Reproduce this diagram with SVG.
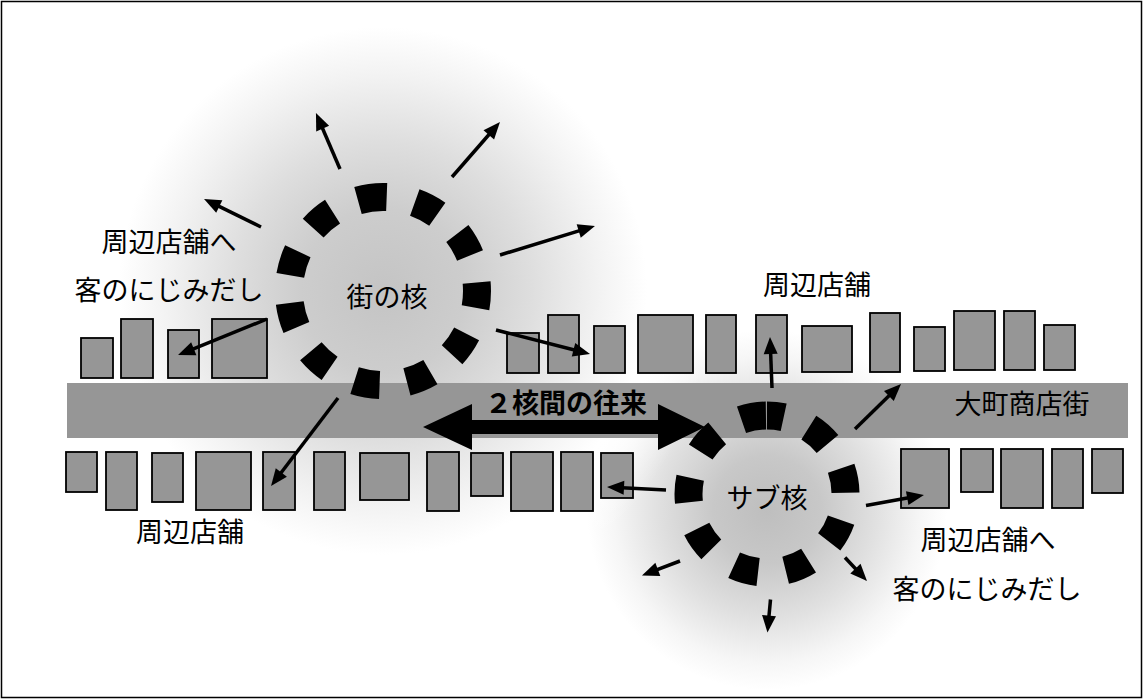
<svg xmlns="http://www.w3.org/2000/svg" width="1144" height="700" viewBox="0 0 1144 700">
<defs>
<style>
.bld{fill:#969696;stroke:#000;stroke-width:1.8}
.t{font-family:"Noto Sans CJK JP","Noto Sans",sans-serif;font-size:27px;fill:#000;text-anchor:middle}
.tb{font-weight:bold}
.arr{stroke:#000;stroke-width:3.5;fill:none;marker-end:url(#ah)}
.ring{fill:none;stroke:#000;stroke-width:28}
</style>
<marker id="ah" markerUnits="userSpaceOnUse" markerWidth="20" markerHeight="16" refX="7" refY="7" orient="auto" overflow="visible">
<path d="M0,0 L17,7 L0,14 z" fill="#000"/>
</marker>
<radialGradient id="gMain" cx="383" cy="291" r="330" gradientUnits="userSpaceOnUse">
<stop offset="0" stop-color="#c4c4c4"/>
<stop offset="0.25" stop-color="#cdcdcd"/>
<stop offset="0.45" stop-color="#dedede"/>
<stop offset="0.65" stop-color="#f2f2f2"/>
<stop offset="0.8" stop-color="#ffffff" stop-opacity="0.95"/>
<stop offset="1" stop-color="#ffffff" stop-opacity="0"/>
</radialGradient>
<radialGradient id="gSub" cx="767" cy="510" r="180" gradientUnits="userSpaceOnUse">
<stop offset="0" stop-color="#bebebe"/>
<stop offset="0.3" stop-color="#c8c8c8"/>
<stop offset="0.6" stop-color="#e0e0e0"/>
<stop offset="0.85" stop-color="#f6f6f6"/>
<stop offset="1" stop-color="#ffffff"/>
</radialGradient>
</defs>
<rect x="0" y="0" width="1144" height="700" fill="#fff"/>
<g id="glows">
<circle cx="767" cy="510" r="180" fill="url(#gSub)"/>
<circle cx="383" cy="291" r="330" fill="url(#gMain)"/>
</g>
<rect id="frame" x="1.5" y="1.5" width="1140" height="696" fill="none" stroke="#000" stroke-width="1.5"/>
<g id="street">
<rect x="67" y="383" width="1061" height="55" fill="#969696"/>
<text class="t" x="1022" y="414">大町商店街</text>
</g>
<g id="buildings-top-left">
<rect class="bld" x="81" y="338" width="32" height="40"/>
<rect class="bld" x="121" y="319" width="32" height="59"/>
<rect class="bld" x="168" y="330" width="31" height="48"/>
<rect class="bld" x="212" y="319" width="55" height="59"/>
</g>
<g id="buildings-top-right">
<rect class="bld" x="507" y="333" width="32" height="40"/>
<rect class="bld" x="548" y="315" width="31" height="58"/>
<rect class="bld" x="594" y="326" width="31" height="47"/>
<rect class="bld" x="638" y="315" width="55" height="58"/>
<rect class="bld" x="706" y="315" width="30" height="58"/>
<rect class="bld" x="756" y="315" width="31" height="58"/>
<rect class="bld" x="802" y="326" width="50" height="46"/>
<rect class="bld" x="870" y="313" width="30" height="59"/>
<rect class="bld" x="914" y="327" width="31" height="44"/>
<rect class="bld" x="954" y="311" width="41" height="59"/>
<rect class="bld" x="1004" y="311" width="31" height="59"/>
<rect class="bld" x="1044" y="325" width="31" height="45"/>
</g>
<g id="buildings-bottom-left">
<rect class="bld" x="66" y="452" width="31" height="40"/>
<rect class="bld" x="106" y="452" width="31" height="58"/>
<rect class="bld" x="152" y="453" width="31" height="49"/>
<rect class="bld" x="196" y="452" width="55" height="58"/>
<rect class="bld" x="263" y="452" width="32" height="58"/>
<rect class="bld" x="314" y="452" width="31" height="58"/>
<rect class="bld" x="360" y="453" width="49" height="47"/>
<rect class="bld" x="427" y="452" width="32" height="59"/>
<rect class="bld" x="471" y="453" width="32" height="43"/>
<rect class="bld" x="511" y="452" width="42" height="59"/>
<rect class="bld" x="561" y="452" width="32" height="59"/>
<rect class="bld" x="601" y="453" width="32" height="45"/>
</g>
<g id="buildings-bottom-right">
<rect class="bld" x="901" y="449" width="48" height="59"/>
<rect class="bld" x="961" y="449" width="32" height="43"/>
<rect class="bld" x="1001" y="449" width="42" height="59"/>
<rect class="bld" x="1052" y="449" width="31" height="59"/>
<rect class="bld" x="1092" y="449" width="31" height="44"/>
</g>
<g id="two-core-link">
<polygon points="423,427 472,404 472,420 658,420 658,404 705,427 658,450 658,434 472,434 472,450" fill="#000"/>
<text class="t tb" x="566" y="413">２核間の往来</text>
</g>
<g id="main-core">
<path class="ring" pathLength="360" stroke-dasharray="2.3 17.5 15.5 16.97 15.5 16.97 15.5 16.97 15.5 16.97 15.5 16.97 15.5 16.97 15.5 16.97 15.5 16.97 15.5 16.97 15.5 16.97 15.5 0.03" d="M383,197 A94,94 0 0 1 383,385 A94,94 0 0 1 383,197"/>
<text class="t" x="387" y="307">街の核</text>
</g>
<g id="sub-core">
<path class="ring" pathLength="360" stroke-dasharray="12.3 19.9 18.2 20.4 18.2 20.4 18.2 20.4 18.2 20.4 18.2 20.4 18.2 20.4 18.2 20.4 18.2 20.4 18.2 0.8" d="M767,415.5 A78.5,78.5 0 0 1 767,572.5 A78.5,78.5 0 0 1 767,415.5"/>
<text class="t" x="767" y="508">サブ核</text>
</g>
<g id="connectors">
<line class="arr" x1="340" y1="169" x2="319.9" y2="122.2"/>
<line class="arr" x1="452" y1="177" x2="493.4" y2="129.5"/>
<line class="arr" x1="261" y1="227" x2="213" y2="203.4"/>
<line class="arr" x1="500" y1="255" x2="585.4" y2="228.9"/>
<line class="arr" x1="267" y1="319" x2="187.3" y2="351.3"/>
<line class="arr" x1="496" y1="330" x2="580.3" y2="351.5"/>
<line class="arr" x1="338" y1="398" x2="277.1" y2="478"/>
<line class="arr" x1="772" y1="388" x2="770.4" y2="347"/>
<line class="arr" x1="855" y1="429" x2="893.9" y2="391"/>
<line class="arr" x1="666" y1="490" x2="617" y2="487.5"/>
<line class="arr" x1="866" y1="505.5" x2="914.1" y2="496.8"/>
<line class="arr" x1="680" y1="561" x2="651.3" y2="571.9"/>
<line class="arr" x1="770.5" y1="599.5" x2="768.4" y2="622.5"/>
<line class="arr" x1="845" y1="557.5" x2="860.2" y2="573.7"/>
</g>
<g id="labels">
<text class="t" x="169" y="252">周辺店舗へ</text>
<text class="t" x="169" y="300">客のにじみだし</text>
<text class="t" x="817" y="295">周辺店舗</text>
<text class="t" x="190" y="542">周辺店舗</text>
<text class="t" x="988" y="550">周辺店舗へ</text>
<text class="t" x="987" y="599">客のにじみだし</text>
</g>
</svg>
